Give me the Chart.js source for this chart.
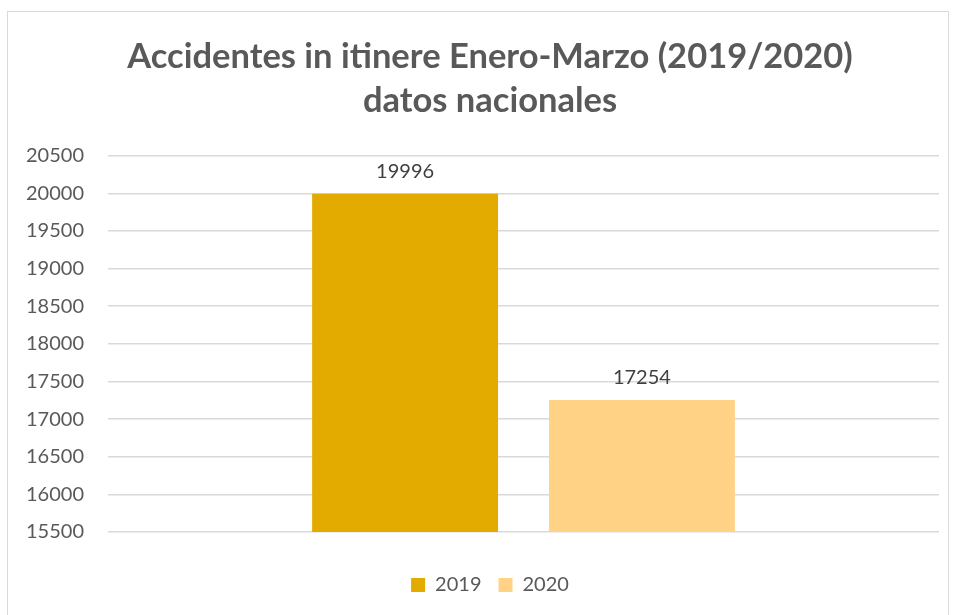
<!DOCTYPE html>
<html lang="es">
<head>
<meta charset="UTF-8">
<title>Accidentes in itinere</title>
<style>
    * { box-sizing: content-box; }
    body { margin: 0; background: #ffffff; overflow: hidden; }
    .frame {
        position: absolute;
        left: 7px;
        top: 11px;
        width: 940px;
        height: 603px;
        border: 1px solid #d9d9d9;
        border-bottom: none;
    }
    canvas { display: block; }
</style>
</head>
<body>
<div class="frame">
    <canvas id="chart" width="940" height="603"></canvas>
</div>
<script src="https://cdn.jsdelivr.net/npm/chart.js"></script>
<script>
// data
const categories = [''];
const seriesNames = ['2019', '2020'];
const seriesValues = [[19996], [17254]];
const seriesColors = ['#E3AA00', '#FFD285'];
const yMin = 15500;
const yMax = 20500;
const yStep = 500;

const FONT = 'Lato, "Open Sans", sans-serif';

// draws the value above each bar
const valueLabels = {
    id: 'valueLabels',
    afterDatasetsDraw(chart) {
        const ctx = chart.ctx;
        ctx.save();
        ctx.font = '20px ' + FONT;
        ctx.fillStyle = '#404040';
        ctx.textAlign = 'center';
        ctx.textBaseline = 'alphabetic';
        chart.data.datasets.forEach((ds, i) => {
            const meta = chart.getDatasetMeta(i);
            meta.data.forEach((bar, j) => {
                ctx.fillText(String(ds.data[j]), bar.x, bar.y - 16);
            });
        });
        ctx.restore();
    }
};

const datasets = seriesNames.map((name, i) => ({
    label: name,
    data: seriesValues[i],
    backgroundColor: seriesColors[i],
    borderWidth: 0,
    categoryPercentage: 0.57,
    barPercentage: 0.785
}));

new Chart(document.getElementById('chart').getContext('2d'), {
    type: 'bar',
    data: { labels: categories, datasets: datasets },
    plugins: [valueLabels],
    options: {
        responsive: false,
        animation: false,
        layout: { padding: { left: 33, right: 9, top: 0, bottom: 10 } },
        plugins: {
            title: {
                display: true,
                text: ['Accidentes in itinere Enero-Marzo (2019/2020)', 'datos nacionales'],
                color: '#595959',
                font: { family: FONT, size: 34.5, weight: 'bold', lineHeight: 1.3 },
                padding: { top: 22, bottom: 32 }
            },
            legend: {
                position: 'bottom',
                labels: {
                    color: '#595959',
                    font: { family: FONT, size: 20 },
                    boxWidth: 14,
                    boxHeight: 14,
                    padding: 17
                }
            },
            tooltip: { enabled: false }
        },
        scales: {
            x: {
                ticks: { display: false },
                grid: { display: false },
                border: { display: false },
                afterFit(scale) { scale.height = 26; }
            },
            y: {
                min: yMin,
                max: yMax,
                ticks: {
                    stepSize: yStep,
                    color: '#595959',
                    font: { family: FONT, size: 20 },
                    // mirrored labels are not clipped to the (narrow) axis box,
                    // negative padding pulls them back out to the left
                    mirror: true,
                    padding: -82,
                    callback: v => String(v)
                },
                grid: { color: '#d9d9d9', lineWidth: 1.5, drawTicks: false },
                border: { display: false },
                afterFit(scale) { scale.width = 67; }
            }
        }
    }
});
</script>
</body>
</html>
